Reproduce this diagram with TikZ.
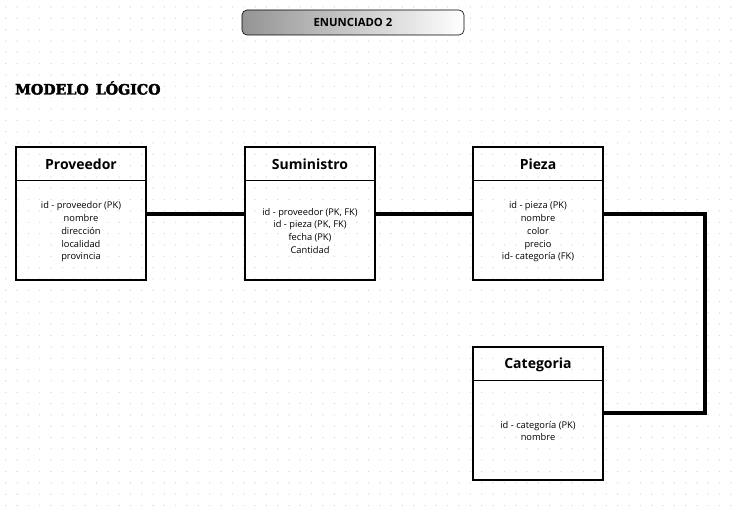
\documentclass[tikz,border=0pt]{standalone}
\usepackage{fontspec}
\setmainfont{Open Sans}
\newfontfamily\titlefont[FakeBold=2.5]{DejaVu Serif}
\usetikzlibrary{positioning}
\definecolor{griddot}{HTML}{D6D6D6}
\tikzset{
  entity/.style={draw=black, line width=1.2pt, minimum width=130pt, minimum height=133pt, inner sep=0pt},
  ehead/.style={font=\bfseries\fontsize{14}{16}\selectfont, anchor=center},
  attrs/.style={font=\fontsize{9.3}{12.8}\selectfont, align=center, anchor=north},
  rel/.style={line width=3.2pt}
}
\begin{document}
\begin{tikzpicture}[x=1pt,y=-1pt]
\useasboundingbox (0,0) rectangle (739,508);
\fill[white] (0,0) rectangle (739,508);
% dotted grid
\foreach \i in {0,...,65}{
  \foreach \j in {0,...,44}{
    \fill[griddot] ({5.8+11.33*\i},{7+11.33*\j}) circle (0.7);
  }
}
% header
\node[draw=black, line width=0.6pt, rounded corners=5pt, minimum width=222pt, minimum height=25pt,
  left color=black!42, right color=white, inner sep=0pt,
  font=\bfseries\fontsize{11.3}{13}\selectfont] (hdr) at (353,22.5) {ENUNCIADO 2};
% title
\node[anchor=west, inner sep=0pt, font=\titlefont\bfseries\fontsize{14.2}{16}\selectfont] (ttl) at (15,88) {MODELO\hspace{7pt}LÓGICO};

% entities
\node[entity] (prov) at (81,213.5) {};
\node[entity] (sumi) at (310,213.5) {};
\node[entity] (piez) at (538,213.5) {};
\node[entity] (cate) at (538,413.5) {};

\foreach \e in {prov,sumi,piez,cate}{
  \draw[line width=1.2pt] ([yshift=-34pt]\e.north west) -- ([yshift=-34pt]\e.north east);
}

\node[ehead] (provT) at ([yshift=-18pt]prov.north) {Proveedor};
\node[ehead] (sumiT) at ([yshift=-18pt]sumi.north) {Suministro};
\node[ehead] (piezT) at ([yshift=-18pt]piez.north) {Pieza};
\node[ehead] (cateT) at ([yshift=-18.5pt]cate.north) {Categoria};

\node[attrs] (provA) at (81,198) {id - proveedor (PK)\\nombre\\dirección\\localidad\\provincia};
\node[attrs] (sumiA) at (310,204.5) {id - proveedor (PK, FK)\\id - pieza (PK, FK)\\fecha (PK)\\Cantidad};
\node[attrs] (piezA) at (538,198) {id - pieza (PK)\\nombre\\color\\precio\\id- categoría (FK)};
\node[attrs] (cateA) at (538,417.5) {id - categoría (PK)\\nombre};

% relations
\coordinate (c1) at (705,214);
\coordinate (c2) at (705,413);
\draw[rel] (prov.east |- 0,214) -- (sumi.west |- 0,214);
\draw[rel] (sumi.east |- 0,214) -- (piez.west |- 0,214);
\draw[rel, line join=miter] (piez.east |- c1) -- (c1) -- (c2) -- (cate.east |- c2);
\end{tikzpicture}
\end{document}
